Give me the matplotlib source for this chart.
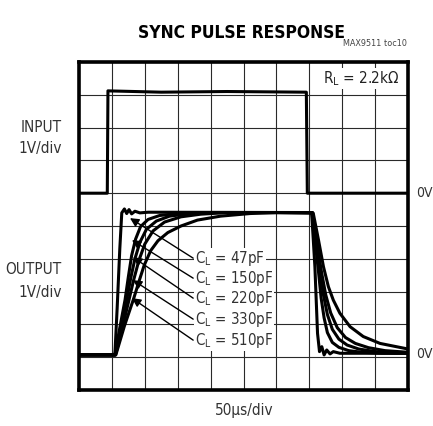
import matplotlib.pyplot as plt
from matplotlib import font_manager
from matplotlib.font_manager import FontProperties

W, H = 433, 426

# input pulse (divisions)
in_x = [0, 0.86, 0.88, 2.5, 4.5, 6.91, 6.94, 10]
in_y = [6.0, 6.0, 9.12, 9.08, 9.1, 9.08, 6.0, 6.0]

# output curves, rise and fall (divisions)
caps = ["47pF", "150pF", "220pF", "330pF", "510pF"]
rise_x = [
    [0, 1.09, 1.16, 1.24, 1.30, 1.38, 1.45, 1.52, 1.60, 1.70, 1.85, 2.1],
    [0, 1.09, 1.25, 1.40, 1.50, 1.60, 1.72, 1.87, 2.1, 2.45, 3.0, 3.6],
    [0, 1.10, 1.28, 1.45, 1.57, 1.70, 1.85, 2.05, 2.35, 2.75, 3.3, 4.0],
    [0, 1.11, 1.32, 1.52, 1.66, 1.82, 2.0, 2.25, 2.6, 3.1, 3.7, 4.5],
    [0, 1.12, 1.38, 1.65, 1.82, 1.98, 2.18, 2.4, 2.7, 3.1, 3.6, 4.3, 5.2, 6.0],
]
rise_y = [
    [1.07, 1.07, 2.5, 4.3, 5.40, 5.52, 5.38, 5.50, 5.37, 5.45, 5.40, 5.42],
    [1.07, 1.07, 1.95, 2.75, 3.45, 4.1, 4.6, 4.98, 5.2, 5.32, 5.38, 5.41],
    [1.07, 1.07, 1.9, 2.75, 3.4, 4.0, 4.5, 4.9, 5.15, 5.3, 5.37, 5.41],
    [1.07, 1.07, 1.9, 2.75, 3.35, 3.95, 4.45, 4.85, 5.12, 5.28, 5.36, 5.41],
    [1.07, 1.07, 1.95, 2.75, 3.3, 3.8, 4.25, 4.55, 4.8, 5.0, 5.18, 5.3, 5.38, 5.41],
]
fall_x = [
    [7.07, 7.12, 7.17, 7.25, 7.31, 7.38, 7.45, 7.53, 7.63, 7.73, 7.93, 10],
    [7.08, 7.18, 7.28, 7.36, 7.45, 7.55, 7.7, 7.9, 8.2, 8.6, 9.2, 10],
    [7.09, 7.2, 7.32, 7.43, 7.55, 7.7, 7.9, 8.15, 8.5, 9.0, 9.6, 10],
    [7.1, 7.23, 7.37, 7.5, 7.65, 7.85, 8.1, 8.4, 8.8, 9.3, 10],
    [7.12, 7.28, 7.43, 7.58, 7.73, 7.93, 8.24, 8.64, 9.15, 10.0],
]
fall_y = [
    [5.41, 4.6, 3.76, 1.73, 1.17, 1.32, 1.07, 1.22, 1.10, 1.17, 1.12, 1.12],
    [5.41, 4.5, 3.6, 2.8, 2.2, 1.75, 1.45, 1.3, 1.2, 1.15, 1.12, 1.12],
    [5.41, 4.5, 3.6, 2.9, 2.3, 1.85, 1.55, 1.37, 1.25, 1.17, 1.13, 1.12],
    [5.41, 4.5, 3.6, 2.9, 2.35, 1.9, 1.6, 1.42, 1.29, 1.2, 1.15],
    [5.39, 4.57, 3.76, 3.15, 2.74, 2.34, 1.93, 1.63, 1.42, 1.25],
]

# label positions and arrow tips (divisions)
label_y = [4.02, 3.41, 2.80, 2.16, 1.52]
tip_x = [1.55, 1.61, 1.64, 1.64, 1.61]
tip_y = [5.24, 4.57, 4.05, 3.35, 2.80]


# look for a narrow / condensed face, fall back to Liberation Sans
def pick_font(bold):
    for f in font_manager.fontManager.ttflist:
        fn = f.fname.replace('\\', '/').split('/')[-1].lower()
        if not ('narrow' in fn or 'condensed' in fn):
            continue
        if 'italic' in fn or 'oblique' in fn:
            continue
        if bold != ('bold' in fn):
            continue
        return f.fname
    return None

reg_path = pick_font(False)
bold_path = pick_font(True)

def fp(size, bold=False):
    path = bold_path if bold else reg_path
    if path:
        return FontProperties(fname=path, size=size)
    return FontProperties(family=['Liberation Sans', 'DejaVu Sans'], size=size * 0.92,
                          weight='bold' if bold else 'normal')

fig = plt.figure(figsize=(W / 100, H / 100), dpi=100)
ax = fig.add_axes([79 / W, 1 - 390 / H, 329 / W, 328 / H])
ax.set_xlim(0, 10)
ax.set_ylim(0, 10)
ax.set_xticks(range(11))
ax.set_yticks(range(11))
ax.tick_params(length=0, labelbottom=False, labelleft=False)
ax.grid(True, color='#2a2a2a', lw=0.8)
for s in ax.spines.values():
    s.set_linewidth(2.6)

ax.plot(in_x, in_y, color='black', lw=2.2, zorder=3)
for i in range(len(caps)):
    xs = rise_x[i] + fall_x[i]
    ys = rise_y[i] + fall_y[i]
    ax.plot(xs, ys, color='black', lw=2.2, zorder=3)

for i, c in enumerate(caps):
    ax.annotate("", xy=(tip_x[i], tip_y[i]), xytext=(3.47, label_y[i]),
                arrowprops=dict(arrowstyle='-|>', color='black', lw=1.0,
                                mutation_scale=13, shrinkA=0, shrinkB=0),
                zorder=4)
    ax.text(3.52, label_y[i], "C$_\\mathregular{L}$ = " + c, fontproperties=fp(10.8),
            color='#333333', va='center', ha='left', zorder=5,
            bbox=dict(facecolor='white', edgecolor='none', pad=0.6))

ax.text(9.75, 9.5, "R$_\\mathregular{L}$ = 2.2k\u03a9", fontproperties=fp(11),
        color='#222222', ha='right', va='center', zorder=5,
        bbox=dict(facecolor='white', edgecolor='none', pad=1.0))

def ftext(x, y, s, size, bold=False, **kw):
    fig.text(x / W, 1 - y / H, s, fontproperties=fp(size, bold), **kw)

ftext(241, 33, "SYNC PULSE RESPONSE", 12.5, bold=True, ha='center', va='center')
ftext(407, 44, "MAX9511 toc10", 6.5, color='#444444', ha='right', va='center')
ftext(62, 127, "INPUT", 11, color='#333333', ha='right', va='center')
ftext(62, 149, "1V/div", 11, color='#333333', ha='right', va='center')
ftext(62, 270, "OUTPUT", 11, color='#333333', ha='right', va='center')
ftext(62, 292, "1V/div", 11, color='#333333', ha='right', va='center')
ftext(416, 193, "0V", 10, color='#333333', ha='left', va='center')
ftext(416, 354, "0V", 10, color='#333333', ha='left', va='center')
ftext(244, 410, "50\u03bcs/div", 11, color='#333333', ha='center', va='center')

fig.savefig("out.png", dpi=100)
